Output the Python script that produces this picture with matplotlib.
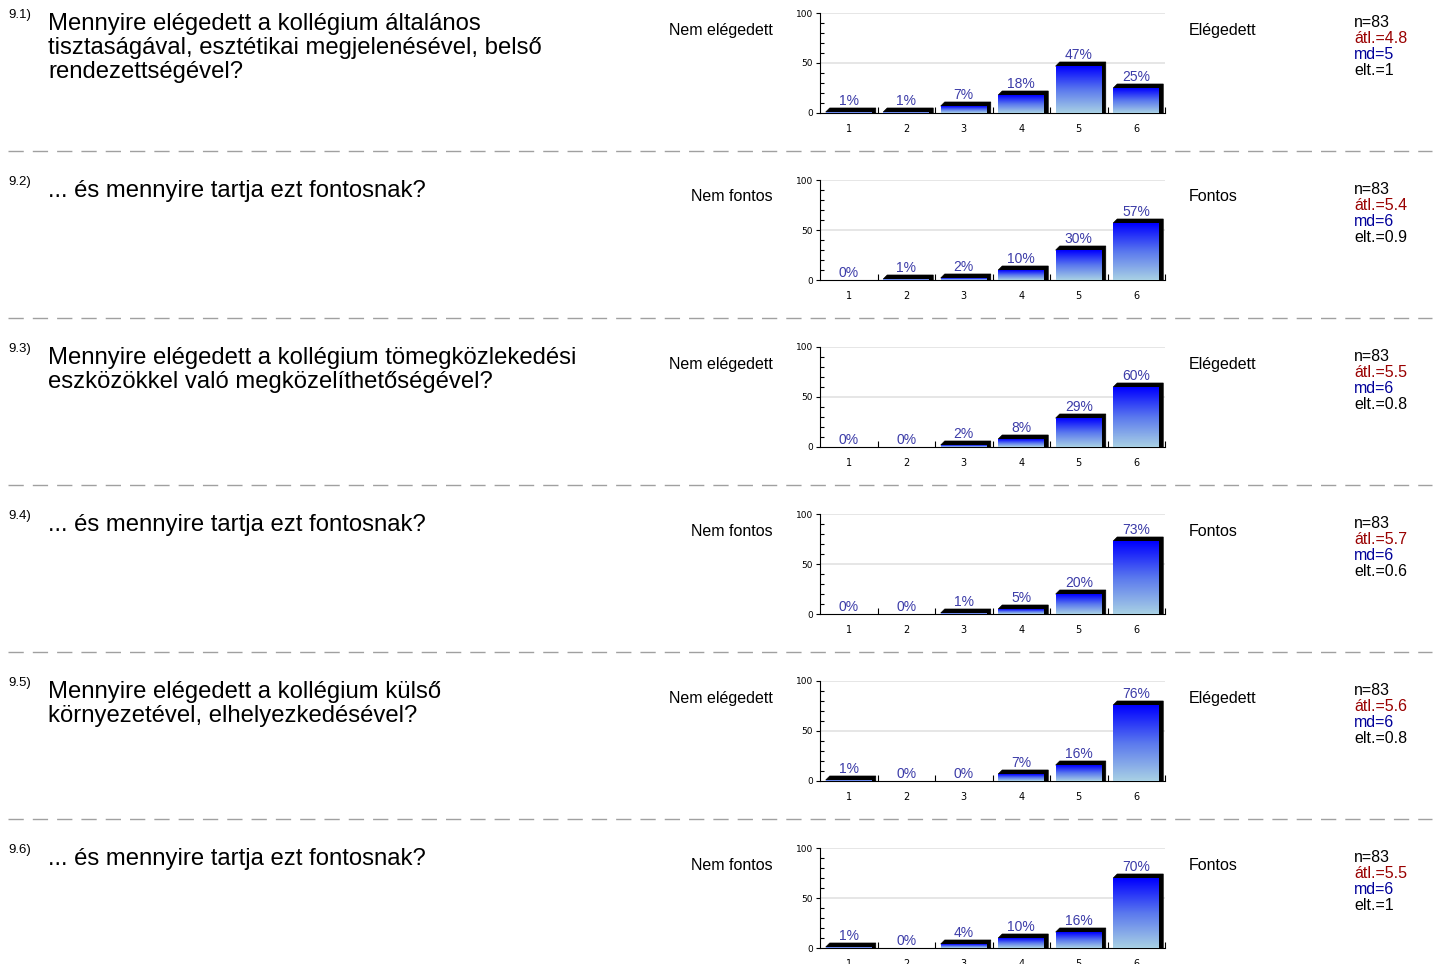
import numpy as np
import matplotlib
matplotlib.use("Agg")
import matplotlib.pyplot as plt
from matplotlib.patches import Polygon
from matplotlib.colors import LinearSegmentedColormap

plt.rcParams['font.family'] = ['Liberation Sans', 'DejaVu Sans']

# data
numbers = ["9.1)", "9.2)", "9.3)", "9.4)", "9.5)", "9.6)"]
questions = [
    "Mennyire elégedett a kollégium általános\ntisztaságával, esztétikai megjelenésével, belső\nrendezettségével?",
    "... és mennyire tartja ezt fontosnak?",
    "Mennyire elégedett a kollégium tömegközlekedési\neszközökkel való megközelíthetőségével?",
    "... és mennyire tartja ezt fontosnak?",
    "Mennyire elégedett a kollégium külső\nkörnyezetével, elhelyezkedésével?",
    "... és mennyire tartja ezt fontosnak?",
]
left_labels = ["Nem elégedett", "Nem fontos", "Nem elégedett", "Nem fontos", "Nem elégedett", "Nem fontos"]
right_labels = ["Elégedett", "Fontos", "Elégedett", "Fontos", "Elégedett", "Fontos"]
categories = [1, 2, 3, 4, 5, 6]
pcts = [
    [1, 1, 7, 18, 47, 25],
    [0, 1, 2, 10, 30, 57],
    [0, 0, 2, 8, 29, 60],
    [0, 0, 1, 5, 20, 73],
    [1, 0, 0, 7, 16, 76],
    [1, 0, 4, 10, 16, 70],
]
n_vals = [83, 83, 83, 83, 83, 83]
atl = ["4.8", "5.4", "5.5", "5.7", "5.6", "5.5"]
md = ["5", "6", "6", "6", "6", "6"]
elt = ["1", "0.9", "0.8", "0.6", "0.8", "1"]

W, H = 1434, 964
fig = plt.figure(figsize=(W / 100, H / 100), dpi=100)
fig.patch.set_facecolor("white")

def fx(x):
    return x / W

def fy(y):
    return 1 - y / H

cmap = LinearSegmentedColormap.from_list("barfade", ["#a8d0e4", "#5a78ee", "#0000ff"])
grad = np.linspace(0, 1, 100).reshape(-1, 1)

AX_W, AX_H = 345, 100
step = 167
bw = 0.8
# 3d depth of the bars, ~4 px
dx = 4 * 6 / AX_W
dy = 4 * 100 / AX_H

for i in range(6):
    top = 13 + step * i
    ax = fig.add_axes([fx(820), fy(top + AX_H), fx(AX_W), AX_H / H])
    for v in (50, 100):
        ax.axhline(v, color="#e2e2e2", lw=1.2, zorder=0)
    for c, v in zip(categories, pcts[i]):
        if v > 0:
            x0, x1 = c - bw / 2, c + bw / 2
            side = Polygon([(x0, v), (x0 + dx, v + dy), (x1 + dx, v + dy),
                            (x1 + dx, 0), (x1, 0)], closed=True,
                           facecolor="black", edgecolor="black", lw=0.5, zorder=2)
            ax.add_patch(side)
            ax.imshow(grad, cmap=cmap, origin="lower", aspect="auto",
                      extent=(x0, x1, 0, v), zorder=3)
        ax.annotate(f"{v}%", (c, v + (dy if v > 0 else 0)), xytext=(0, 0),
                    textcoords="offset points", ha="center", va="bottom",
                    fontsize=10, color="#3c3ca8", zorder=4)
    ax.set_xlim(0.5, 6.5)
    ax.set_ylim(0, 100)
    for s in ("top", "right"):
        ax.spines[s].set_visible(False)
    ax.set_xticks(categories)
    ax.set_xticklabels([str(c) for c in categories], fontsize=7, family="DejaVu Sans")
    ax.tick_params(axis="x", length=0, pad=8)
    ax.set_xticks([1.5, 2.5, 3.5, 4.5, 5.5, 6.5], minor=True)
    ax.tick_params(axis="x", which="minor", direction="in", length=4, width=0.8)
    ax.set_yticks([0, 50, 100])
    ax.set_yticklabels(["0", "50", "100"], fontsize=6.5, family="DejaVu Sans")
    ax.tick_params(axis="y", direction="out", length=3, width=0.8, pad=2)
    ax.set_yticks(np.arange(10, 100, 10), minor=True)
    ax.tick_params(axis="y", which="minor", direction="in", length=3, width=0.8)

    fig.text(fx(8), fy(top - 4), numbers[i], fontsize=9.5, va="top", ha="left")
    fig.text(fx(48), fy(top), questions[i], fontsize=17.2, va="top", ha="left",
             linespacing=1.13)
    fig.text(fx(773), fy(top + 17), left_labels[i], fontsize=11.5, va="center", ha="right")
    fig.text(fx(1189), fy(top + 17), right_labels[i], fontsize=11.5, va="center", ha="left")
    stats = [(f"n={n_vals[i]}", "black"), (f"átl.={atl[i]}", "#990000"),
             (f"md={md[i]}", "#000099"), (f"elt.={elt[i]}", "black")]
    for k, (t, col) in enumerate(stats):
        fig.text(fx(1354), fy(top + 9.5 + 16 * k), t, fontsize=11.5, va="center",
                 ha="left", color=col)

    if i < 5:
        y = fy(151 + step * i)
        fig.add_artist(plt.Line2D([fx(8), fx(1432)], [y, y], color="#a0a0a0",
                                  lw=1, dashes=(11, 6.5)))

fig.savefig("out.png", dpi=100)
